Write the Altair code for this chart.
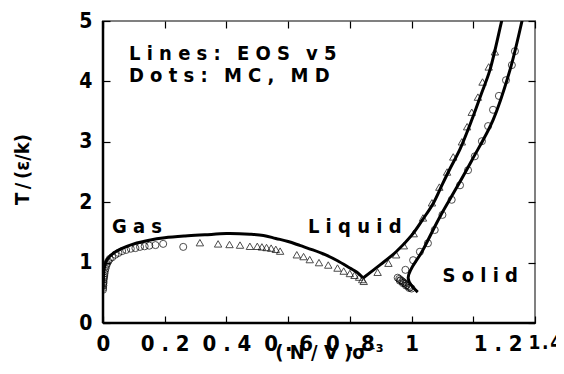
import altair as alt
import pandas as pd

NB = "\u00a0"
TH = "\u2009"

# ---- EOS lines ----
gas_line_x = [0.0, 0.001, 0.004, 0.012, 0.03, 0.06, 0.10, 0.15, 0.20, 0.266, 0.33, 0.40, 0.476, 0.52, 0.56, 0.60, 0.64, 0.68, 0.72, 0.76, 0.80, 0.823, 0.843]
gas_line_y = [0.55, 0.70, 0.90, 1.04, 1.14, 1.23, 1.31, 1.37, 1.41, 1.44, 1.46, 1.48, 1.47, 1.45, 1.40, 1.35, 1.28, 1.21, 1.13, 1.03, 0.91, 0.84, 0.745]

liq_line_x = [0.843, 0.90, 0.95, 1.0, 1.037, 1.07, 1.10, 1.124, 1.157, 1.195, 1.225, 1.254, 1.293, 1.30]
liq_line_y = [0.745, 0.97, 1.18, 1.45, 1.72, 1.98, 2.30, 2.55, 2.88, 3.36, 3.78, 4.19, 5.02, 5.15]

sol_line_x = [1.020, 0.989, 1.037, 1.092, 1.147, 1.196, 1.264, 1.319, 1.358, 1.365]
sol_line_y = [0.51, 0.745, 1.21, 1.76, 2.25, 2.70, 3.36, 4.19, 5.0, 5.15]

# ---- simulation points ----
circ_x = [0.0, 0.0, 0.001, 0.001, 0.002, 0.002, 0.003, 0.004, 0.005, 0.006, 0.008, 0.010, 0.013, 0.017,
          0.022, 0.030, 0.040, 0.050, 0.062, 0.075, 0.090, 0.105, 0.120, 0.135, 0.150, 0.170, 0.195, 0.260,
          0.955, 0.960, 0.965, 0.970, 0.975, 0.980, 0.985, 0.990, 0.995, 1.000, 0.962, 0.972, 0.982, 0.992,
          0.980, 1.005, 1.027, 1.053, 1.075, 1.100, 1.130, 1.157, 1.183, 1.205, 1.228, 1.248, 1.264, 1.283,
          1.306, 1.325, 1.335]
circ_y = [0.55, 0.58, 0.62, 0.65, 0.68, 0.72, 0.75, 0.78, 0.82, 0.86, 0.90, 0.94, 0.98, 1.02,
          1.06, 1.09, 1.13, 1.16, 1.19, 1.21, 1.23, 1.24, 1.26, 1.27, 1.28, 1.29, 1.31, 1.26,
          0.75, 0.73, 0.71, 0.69, 0.67, 0.65, 0.63, 0.61, 0.59, 0.57, 0.70, 0.66, 0.62, 0.58,
          0.88, 1.04, 1.18, 1.32, 1.54, 1.79, 2.04, 2.28, 2.53, 2.76, 3.01, 3.26, 3.53, 3.76,
          4.02, 4.27, 4.50]

tri_x = [0.314, 0.373, 0.410, 0.444, 0.476, 0.500, 0.515, 0.530, 0.545, 0.560, 0.574, 0.628, 0.650, 0.670,
         0.700, 0.730, 0.760, 0.780, 0.800, 0.815, 0.830, 0.840, 0.845,
         0.890, 0.925, 0.950, 0.975, 1.007, 1.037, 1.066, 1.090, 1.115, 1.135, 1.163, 1.180, 1.195, 1.215,
         1.230, 1.250, 1.270]
tri_y = [1.33, 1.31, 1.30, 1.29, 1.27, 1.27, 1.26, 1.25, 1.24, 1.22, 1.19, 1.13, 1.10, 1.05,
         1.00, 0.96, 0.91, 0.86, 0.82, 0.79, 0.76, 0.72, 0.69,
         0.84, 0.99, 1.13, 1.28, 1.48, 1.74, 1.99, 2.25, 2.50, 2.75, 3.00, 3.25, 3.49, 3.74,
         3.99, 4.24, 4.49]

# ---- annotations ----
ann_text = ["Lines: EOS v5", "Dots: MC, MD", "Gas", "Liquid", "Solid"]
ann_x = [0.084, 0.084, 0.029, 0.664, 1.100]
ann_y = [4.35, 3.99, 1.49, 1.49, 0.68]

x_ticks = [0, 0.2, 0.4, 0.6, 0.8, 1.0, 1.2, 1.4]
y_ticks = [0, 1, 2, 3, 4, 5]

W, H = 432, 302
FONT = "'DejaVu Sans Condensed', 'Liberation Sans Narrow', 'DejaVu Sans'"


def spaced(s):
    out = []
    for ch in s:
        if ch == " ":
            out.append(TH)
        else:
            out.append(ch)
    return NB.join(out)


lines_df = pd.concat([
    pd.DataFrame({"x": gas_line_x, "y": gas_line_y, "branch": "gas", "i": range(len(gas_line_x))}),
    pd.DataFrame({"x": liq_line_x, "y": liq_line_y, "branch": "liq", "i": range(len(liq_line_x))}),
    pd.DataFrame({"x": sol_line_x, "y": sol_line_y, "branch": "sol", "i": range(len(sol_line_x))}),
])
circ_df = pd.DataFrame({"x": circ_x, "y": circ_y})
tri_df = pd.DataFrame({"x": tri_x, "y": tri_y})
ann_df = pd.DataFrame({"t": [spaced(t) for t in ann_text], "x": ann_x, "y": ann_y})

xs = alt.Scale(domain=[0, 1.4], nice=False, zero=False)
ys = alt.Scale(domain=[0, 5], nice=False, zero=False)

x_bottom = alt.Axis(orient="bottom", values=x_ticks, format="~g",
                    labelExpr="datum.value >= 1.3 ? join(split(datum.label, ''), '\u200a') : join(split(datum.label, ''), '\u00a0')",
                    labelAlign={"condition": {"test": "datum.value >= 1.1", "value": "left"},
                                "value": "center"},
                    labelFontSize={"condition": {"test": "datum.value >= 1.3", "value": 19},
                                   "value": 22},
                    labelOffset={"condition": {"test": "datum.value >= 1.3", "value": -7},
                                 "value": 0},
                    offset=-7, tickSize=7, tickColor="black", tickWidth=1.2,
                    domain=False, grid=False, labelFont=FONT,
                    labelFontWeight="bold", labelColor="black", labelPadding=10,
                    labelFlush=False, labelOverlap=False,
                    title="(" + NB + "N" + NB + "/" + NB + "V" + NB + ")σ⁻³",
                    titleFont=FONT, titleFontSize=20, titleFontWeight="bold",
                    titleColor="black", titleX=226, titleY=26)
y_left = alt.Axis(orient="left", values=y_ticks, format="d",
                  offset=-7, tickSize=7, tickColor="black", tickWidth=1.2,
                  domain=False, grid=False, labelFont=FONT, labelFontSize=21,
                  labelFontWeight="bold", labelColor="black", labelPadding=11,
                  labelFlush=False, labelOverlap=False,
                  title="T" + TH + "/" + TH + "(ε/k)",
                  titleFont=FONT, titleFontSize=20, titleFontWeight="bold",
                  titleColor="black", titleAngle=270, titleBaseline="middle",
                  titleAlign="center", titleX=-88, titleY=148)
x_top = alt.Axis(orient="top", values=x_ticks, offset=-7, tickSize=7, tickColor="black",
                 tickWidth=1.2, domain=False, grid=False, labels=False, title=None)
y_right = alt.Axis(orient="right", values=y_ticks, offset=-7, tickSize=7, tickColor="black",
                   tickWidth=1.2, domain=False, grid=False, labels=False, title=None)

frame_df = alt.Data(values=[{}])
left_rule = alt.Chart(frame_df).mark_rule(color="black", strokeWidth=2.5).encode(
    x=alt.value(0), y=alt.value(0), y2=alt.value(H))
bottom_rule = alt.Chart(frame_df).mark_rule(color="black", strokeWidth=2.5).encode(
    x=alt.value(0), x2=alt.value(W), y=alt.value(H))

lines = alt.Chart(lines_df).mark_line(color="black", strokeWidth=3, clip=True,
                                      interpolate="catmull-rom").encode(
    x=alt.X("x:Q", scale=xs, axis=x_bottom),
    y=alt.Y("y:Q", scale=ys, axis=y_left),
    detail="branch:N",
    order="i:Q",
)

circles = alt.Chart(circ_df).mark_point(shape="circle", filled=False, color="black",
                                        size=50, strokeWidth=1, clip=True).encode(
    x=alt.X("x:Q", scale=xs, axis=x_top),
    y=alt.Y("y:Q", scale=ys, axis=y_right),
)

tris = alt.Chart(tri_df).mark_point(shape="triangle-up", filled=False, color="black",
                                    size=55, strokeWidth=1, clip=True).encode(
    x=alt.X("x:Q", scale=xs, axis=None),
    y=alt.Y("y:Q", scale=ys, axis=None),
)

texts = alt.Chart(ann_df).mark_text(align="left", baseline="alphabetic", font=FONT,
                                    fontSize=20, fontWeight="bold", color="black").encode(
    x=alt.X("x:Q", scale=xs, axis=None),
    y=alt.Y("y:Q", scale=ys, axis=None),
    text="t:N",
)

chart = alt.layer(lines, circles, tris, texts, left_rule, bottom_rule).resolve_axis(
    x="independent", y="independent"
).properties(
    width=W, height=H,
    padding={"left": 95, "top": 13, "right": 21, "bottom": 43},
    autosize=alt.AutoSizeParams(type="none"),
).configure_view(stroke="#808080", strokeWidth=2)

chart.save("out.html", embed_options={"renderer": "svg", "actions": False})
